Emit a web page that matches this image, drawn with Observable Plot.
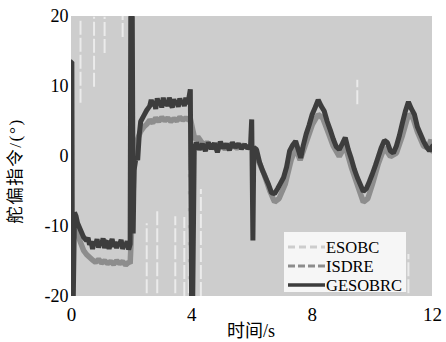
<!DOCTYPE html>
<html>
<head>
<meta charset="utf-8">
<script src="https://cdn.jsdelivr.net/npm/d3@7"></script>
<script src="https://cdn.jsdelivr.net/npm/@observablehq/plot@0.6"></script>
<style>
  html, body { margin: 0; padding: 0; background: #fff; }
  #chart { width: 446px; height: 342px; }
</style>
</head>
<body>
<div id="chart"></div>
<script>
// ---- Data ----
const seriesNames = ["ESOBC", "ISDRE", "GESOBRC"];
const xTicks = [0, 4, 8, 12];
const yTicks = [-20, -10, 0, 10, 20];
const xLabel = "时间/s";
const yLabel = "舵偏指令/(°)";

// ESOBC chatters over the whole range: its envelope (time, low, high)
const esobcT    = [0, 12];
const esobcLow  = [-20, -20];
const esobcHigh = [20, 20];
// places the ESOBC chattering leaves uncovered (time, from, to)
const gapT  = [0.3, 0.75, 1.1, 1.7, 2.5, 2.85, 3.45, 3.75, 3.9, 4.3, 9.5, 11.2];
const gapLo = [7.6, 9.9, 14.7, 17, -19.6, -19.6, -19.6, -20, -19.6, -20, 7.4, -19.6];
const gapHi = [19.4, 19.9, 19.9, 20, -9.6, -7.6, -8.6, -8.7, -2, -4.7, 10.9, -14];

// ISDRE (time, value)
const isdreT = [0.08, 0.12, 0.2, 0.3, 0.4, 0.5, 0.6, 0.7, 0.8, 0.9, 1.0, 1.1, 1.2, 1.3, 1.4, 1.5, 1.6, 1.7, 1.8, 1.9, 1.95,
  2.1, 2.2, 2.3, 2.4, 2.5, 2.6, 2.7, 2.8, 2.9, 3.0, 3.1, 3.2, 3.3, 3.4, 3.5, 3.6, 3.7, 3.8, 3.9, 3.95,
  4.1, 4.2, 4.3, 4.4, 4.5, 4.7, 4.9, 5.1, 5.3, 5.5, 5.7, 5.9, 6.05,
  6.2, 6.4, 6.6, 6.75, 6.9, 7.1, 7.3, 7.45, 7.6, 7.8, 8.0, 8.2, 8.35, 8.5, 8.7, 8.9, 9.1, 9.3, 9.5, 9.7, 9.85,
  10.0, 10.2, 10.4, 10.6, 10.8, 11.0, 11.2, 11.35, 11.5, 11.7, 11.85, 11.95, 12.0];
const isdreV = [-9.5, -10, -11, -12.3, -13.4, -14, -14.4, -14.8, -15.1, -14.7, -15.2, -14.9, -15.3, -15, -15.4, -14.9, -15.3, -15, -15.5, -15.1, -15.3,
  0, 2.5, 3.6, 4.2, 4.6, 5.2, 4.8, 5.5, 5.0, 5.6, 5.1, 5.5, 5.0, 5.4, 5.1, 5.6, 5.2, 5.5, 5.2, 5.4,
  2.4, 2.8, 2.2, 1.6, 2.0, 1.2, 1.8, 1.1, 1.7, 1.2, 1.6, 1.3, 1.2,
  -0.5, -2.5, -5, -6.5, -6, -4, -0.5, 1.2, -0.5, 2, 4.5, 6, 5.5, 3.8, 1.5, 0, 1.5, -1.5, -4, -6.5, -6,
  -4, -1, 1.3, 0, 0.5, 3, 6, 5.5, 3.5, 1.5, 1.2, 2.4, 0.8];

// GESOBRC (time, value)
const gesoT = [0, 0.012, 0.03, 0.06, 0.1, 0.15, 0.2, 0.3, 0.4, 0.5, 0.55, 0.6, 0.65, 0.7, 0.75, 0.8, 0.85, 0.9, 0.95, 1.0, 1.05, 1.1, 1.15, 1.2, 1.25, 1.3, 1.35, 1.4, 1.45, 1.5, 1.55, 1.6, 1.65, 1.7, 1.75, 1.8, 1.85, 1.9, 1.95,
  1.97, 2.02, 2.05, 2.08, 2.15, 2.2, 2.25, 2.3, 2.4, 2.5, 2.6, 2.65, 2.7, 2.75, 2.8, 2.85, 2.9, 2.95, 3.0, 3.05, 3.1, 3.15, 3.2, 3.25, 3.3, 3.35, 3.4, 3.45, 3.5, 3.55, 3.6, 3.65, 3.7, 3.75, 3.8, 3.85, 3.9, 3.95,
  3.99, 4.03, 4.08, 4.15, 4.25, 4.35, 4.45, 4.55, 4.65, 4.75, 4.85, 4.95, 5.05, 5.15, 5.25, 5.35, 5.45, 5.55, 5.65, 5.75, 5.85, 5.95,
  5.99, 6.03, 6.06, 6.15, 6.25, 6.35, 6.45, 6.55, 6.65, 6.75, 6.85, 6.95, 7.05, 7.15, 7.25, 7.35, 7.45, 7.55, 7.62, 7.7, 7.8, 7.9,
  8.0, 8.1, 8.2, 8.3, 8.4, 8.5, 8.6, 8.7, 8.8, 8.9, 9.0, 9.1, 9.2, 9.3, 9.4, 9.5, 9.6, 9.7, 9.8, 9.9,
  10.0, 10.1, 10.2, 10.3, 10.4, 10.5, 10.6, 10.7, 10.8, 10.9, 11.0, 11.1, 11.2, 11.3, 11.4, 11.5, 11.6, 11.7, 11.8, 11.9, 12.0];
const gesoV = [13.5, 13.5, -20, -20, -8, -8.5, -9.5, -10.5, -11.5, -12, -11.6, -12.6, -12.1, -13.2, -12.2, -12.6, -11.8, -13, -12.2, -12.6, -11.7, -13.1, -12.3, -12.1, -13.2, -12.4, -11.8, -12.9, -12.2, -13.1, -12.3, -12.6, -11.9, -13.2, -12.5, -12.8, -12.1, -13.3, -12.5,
  20, 20, -11, -2, 0, -0.5, 3, 5, 5.8, 6.6, 7.2, 8.1, 7.2, 7.9, 6.8, 8.3, 7.4, 7.9, 7.0, 8.4, 7.3, 7.8, 7.2, 8.4, 7.5, 7.0, 8.2, 7.4, 8.0, 7.1, 8.3, 7.6, 7.9, 7.2, 8.4, 7.5, 8.3, 9.6,
  -20, -20, 1, 2, 1, 1.8, 0.8, 2, 1.1, 1.9, 0.6, 2.1, 1.2, 1.8, 0.9, 2, 1.3, 1.8, 1.1, 1.7, 1.2, 1.5,
  5.3, -12, 1.3, 1, -0.8, -2, -3, -4, -5.2, -5.3, -4.6, -3.8, -3, -1.5, 0.8, 1.6, 2.2, 0.8, -0.2, 1.5, 3.2, 4.5,
  6, 7, 8.1, 7.2, 6.5, 5, 3.8, 2.5, 1.4, 1, 1.8, 2.7, 1, -0.3, -1.8, -3, -4, -5, -4.6, -3.6,
  -2.5, -1.3, 0, 1.3, 2.3, 2, 0.8, 0.5, 1.5, 3, 4.8, 6.5, 7.8, 6.8, 6, 4.2, 3.2, 2.2, 1.4, 0.8, 1.5];

// ---- Tables built from the arrays ----
const esobc = esobcT.map((t, i) => ({t, lo: esobcLow[i], hi: esobcHigh[i]}));
const gaps = gapT.map((t, i) => ({t, lo: gapLo[i], hi: gapHi[i]}));
const isdre = isdreT.map((t, i) => ({t, v: isdreV[i]}));
const geso = gesoT.map((t, i) => ({t, v: gesoV[i]}));

const colors = {ESOBC: "#cdcdcd", ISDRE: "#8d8d8d", GESOBRC: "#3d3d3d"};
const serif = "'Liberation Serif', 'Times New Roman', Times, 'DejaVu Serif', serif, 'Noto Sans CJK SC'";

const chart = Plot.plot({
  width: 446,
  height: 342,
  marginLeft: 71,
  marginRight: 14,
  marginTop: 16,
  marginBottom: 46,
  style: {fontFamily: serif, background: "#fff", color: "#000"},
  x: {domain: [0, 12]},
  y: {domain: [-20, 20]},
  marks: [
    Plot.areaY(esobc, {x: "t", y1: "lo", y2: "hi", fill: colors.ESOBC}),
    Plot.ruleX(gaps, {x: "t", y1: "lo", y2: "hi", stroke: "#f0f0f0", strokeWidth: 2, strokeOpacity: 0.85, strokeDasharray: "14,3"}),
    Plot.line(isdre, {x: "t", y: "v", stroke: colors.ISDRE, strokeWidth: 5.5, strokeLinejoin: "miter", clip: true}),
    Plot.line(geso, {x: "t", y: "v", stroke: colors.GESOBRC, strokeWidth: 5, strokeLinejoin: "miter", clip: true}),
    Plot.axisX({ticks: xTicks, tickSize: 0, tickPadding: 11, fontSize: 19, label: null, tickFormat: d => String(d)}),
    Plot.axisY({ticks: yTicks, tickSize: 0, tickPadding: 3, fontSize: 18, label: null, tickFormat: d => String(d)})
  ]
});

document.getElementById("chart").appendChild(chart);

// ---- Axis titles and legend ----
const svg = d3.select(chart);
svg.append("text")
  .attr("x", 251).attr("y", 337)
  .attr("text-anchor", "middle")
  .attr("font-size", 18)
  .text(xLabel);
svg.append("text")
  .attr("transform", "translate(21,171) rotate(-90)")
  .attr("text-anchor", "middle")
  .attr("font-size", 17.5)
  .attr("letter-spacing", 1.5)
  .text(yLabel);

const lg = svg.append("g").attr("transform", "translate(284,232)");
lg.append("rect").attr("width", 122).attr("height", 60).attr("fill", "#f6f6f6");
const legendStyles = [
  {name: seriesNames[0], dash: "7,4", color: colors.ESOBC, w: 3},
  {name: seriesNames[1], dash: "7,3", color: colors.ISDRE, w: 3},
  {name: seriesNames[2], dash: null, color: colors.GESOBRC, w: 3.5}
];
legendStyles.forEach((s, i) => {
  const y = 15 + i * 19;
  const ln = lg.append("line").attr("x1", 4).attr("x2", 41).attr("y1", y).attr("y2", y)
    .attr("stroke", s.color).attr("stroke-width", s.w);
  if (s.dash) ln.attr("stroke-dasharray", s.dash);
  lg.append("text").attr("x", 42).attr("y", y).attr("dy", "0.35em")
    .attr("text-anchor", "start")
    .attr("font-size", 16.5).text(s.name);
});

// apply the serif face to every text element (ticks, titles, legend)
svg.selectAll("text").style("font-family", serif);
</script>
</body>
</html>
